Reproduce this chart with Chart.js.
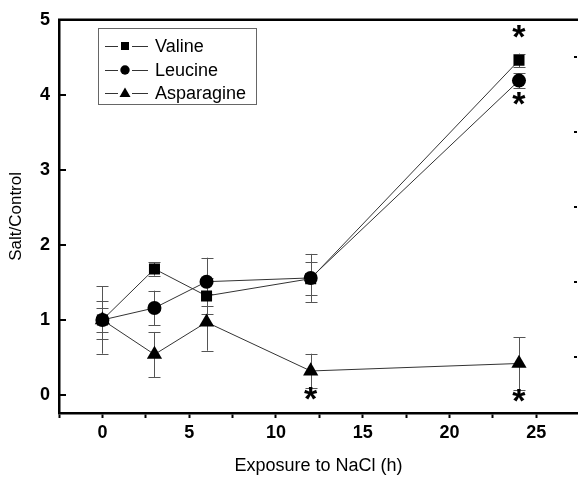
<!DOCTYPE html>
<html>
<head>
<meta charset="utf-8">
<script src="https://cdn.jsdelivr.net/npm/chart.js@4.4.1/dist/chart.umd.min.js"></script>
<style>
  html, body { margin: 0; padding: 0; background: #fff; }
  #wrap { width: 578px; height: 482px; }
</style>
</head>
<body>
<div id="wrap"><canvas id="aminoChart" width="578" height="482"></canvas></div>
<script>
// exposure times (h)
const hours = [0, 3, 6, 12, 24];

// salt / control ratios
const valine = [1.0, 1.68, 1.32, 1.55, 4.46];
const leucine = [1.0, 1.16, 1.51, 1.56, 4.19];
const asparagine = [1.0, 0.54, 0.97, 0.32, 0.42];

// error bar half-widths
const valineErr = [0.16, 0.09, 0.24, 0.22, 0.09];
const leucineErr = [0.25, 0.23, 0.32, 0.32, 0.10];
const asparagineErr = [0.45, 0.30, 0.38, 0.23, 0.35];

// significance stars
const starHours = [24, 24, 12, 24];
const starValues = [4.81, 3.92, -0.02, -0.04];

// axis ticks
const yTicks = [0, 1, 2, 3, 4, 5];
const rightMinorTicks = [0.5, 1.5, 2.5, 3.5, 4.5];

function toPoints(vals) {
    return hours.map((h, i) => ({ x: h, y: vals[i] }));
}

const seriesErr = [valineErr, leucineErr, asparagineErr];

// error bars behind the markers
const errorBars = {
    id: "errorBars",
    beforeDatasetsDraw(chart) {
        const ctx = chart.ctx;
        const xs = chart.scales.x, ys = chart.scales.y;
        ctx.save();
        ctx.strokeStyle = "#555";
        ctx.lineWidth = 1;
        chart.data.datasets.forEach((ds, di) => {
            ds.data.forEach((p, i) => {
                const e = seriesErr[di][i];
                const px = Math.round(xs.getPixelForValue(p.x)) + 0.5;
                const top = ys.getPixelForValue(p.y + e);
                const bot = ys.getPixelForValue(p.y - e);
                ctx.beginPath();
                ctx.moveTo(px, top); ctx.lineTo(px, bot);
                ctx.moveTo(px - 6, Math.round(top) + 0.5); ctx.lineTo(px + 6, Math.round(top) + 0.5);
                ctx.moveTo(px - 6, Math.round(bot) + 0.5); ctx.lineTo(px + 6, Math.round(bot) + 0.5);
                ctx.stroke();
            });
        });
        ctx.restore();
    }
};

// frame bits, stars, legend
const decorations = {
    id: "decorations",
    afterDraw(chart) {
        const ctx = chart.ctx;
        const area = chart.chartArea;
        const xs = chart.scales.x, ys = chart.scales.y;
        ctx.save();

        // top line of frame
        ctx.strokeStyle = "#000";
        ctx.lineWidth = 2.5;
        ctx.beginPath();
        ctx.moveTo(area.left - 1, area.top);
        ctx.lineTo(area.right, area.top);
        ctx.stroke();

        // inward y ticks
        ctx.lineWidth = 2;
        yTicks.forEach(v => {
            const py = Math.round(ys.getPixelForValue(v));
            ctx.beginPath();
            ctx.moveTo(area.left, py);
            ctx.lineTo(area.left + 7, py);
            ctx.stroke();
        });

        // minor ticks of the (cut off) right axis
        ctx.fillStyle = "#000";
        rightMinorTicks.forEach(v => {
            const py = Math.round(ys.getPixelForValue(v));
            ctx.fillRect(area.right - 4, py - 1, 3, 2);
        });

        // significance stars
        ctx.font = "bold 34px 'Liberation Sans', Arial, sans-serif";
        ctx.textAlign = "center";
        ctx.textBaseline = "alphabetic";
        starHours.forEach((h, i) => {
            const px = xs.getPixelForValue(h);
            const py = ys.getPixelForValue(starValues[i]);
            ctx.fillText("*", px, py + 14);
        });

        // legend
        const box = { x: 98.5, y: 28.5, w: 158, h: 76 };
        ctx.strokeStyle = "#666";
        ctx.lineWidth = 1;
        ctx.strokeRect(box.x, box.y, box.w, box.h);
        const rows = [46, 70, 93];
        ctx.font = "18px 'Liberation Sans', Arial, sans-serif";
        ctx.textAlign = "left";
        ctx.textBaseline = "middle";
        chart.data.datasets.forEach((ds, i) => {
            const ry = rows[i];
            ctx.strokeStyle = "#333";
            ctx.lineWidth = 1;
            ctx.beginPath();
            ctx.moveTo(105, ry + 0.5);
            ctx.lineTo(148, ry + 0.5);
            ctx.stroke();
            ctx.fillStyle = "#fff";
            ctx.fillRect(118, ry - 6, 14, 12);
            ctx.fillStyle = "#000";
            const mx = 125;
            if (ds.pointStyle === "rect") {
                ctx.fillRect(mx - 4, ry - 4, 8, 8);
            } else if (ds.pointStyle === "circle") {
                ctx.beginPath();
                ctx.arc(mx, ry, 4.7, 0, Math.PI * 2);
                ctx.fill();
            } else {
                ctx.beginPath();
                ctx.moveTo(mx, ry - 5.5);
                ctx.lineTo(mx + 5.5, ry + 4);
                ctx.lineTo(mx - 5.5, ry + 4);
                ctx.closePath();
                ctx.fill();
            }
            ctx.fillText(ds.label, 155, ry + 1);
        });

        ctx.restore();
    }
};

const ctx = document.getElementById("aminoChart").getContext("2d");
new Chart(ctx, {
    type: "line",
    data: {
        datasets: [
            {
                label: "Valine",
                data: toPoints(valine),
                pointStyle: "rect",
                pointRadius: 7.8,
            },
            {
                label: "Leucine",
                data: toPoints(leucine),
                pointStyle: "circle",
                pointRadius: 7,
            },
            {
                label: "Asparagine",
                data: toPoints(asparagine),
                pointStyle: "triangle",
                pointRadius: 8.8,
            },
        ].map(ds => Object.assign(ds, {
            borderColor: "#333",
            borderWidth: 1,
            backgroundColor: "#000",
            pointBackgroundColor: "#000",
            pointBorderColor: "#000",
            pointBorderWidth: 0,
            pointHoverRadius: ds.pointRadius,
            tension: 0,
            fill: false,
        })),
    },
    options: {
        responsive: false,
        animation: false,
        devicePixelRatio: 1,
        layout: { autoPadding: false, padding: { top: 19, right: 0, left: 0, bottom: 0 } },
        plugins: {
            legend: { display: false },
            tooltip: { enabled: false },
        },
        scales: {
            x: {
                type: "linear",
                min: -2.5,
                max: 27.4,
                afterFit(scale) { scale.height = 69; },
                border: { display: true, color: "#000", width: 2.5 },
                grid: {
                    drawOnChartArea: false,
                    drawTicks: true,
                    tickLength: 5,
                    tickWidth: 2,
                    tickColor: "#000",
                },
                ticks: {
                    stepSize: 2.5,
                    autoSkip: false,
                    includeBounds: false,
                    maxRotation: 0,
                    color: "#000",
                    padding: 4,
                    font: { family: "'Liberation Sans', Arial, sans-serif", size: 18, weight: "bold" },
                    callback: v => (v % 5 === 0 ? v : ""),
                },
                title: {
                    display: true,
                    text: "Exposure to NaCl (h)",
                    color: "#000",
                    padding: { top: 0, bottom: 5 },
                    font: { family: "'Liberation Sans', Arial, sans-serif", size: 18 },
                },
            },
            y: {
                type: "linear",
                min: -0.24,
                max: 5.0,
                afterFit(scale) { scale.width = 59; },
                border: { display: true, color: "#000", width: 2.5 },
                grid: { drawOnChartArea: false, drawTicks: false },
                ticks: {
                    stepSize: 1,
                    includeBounds: false,
                    color: "#000",
                    padding: 9,
                    font: { family: "'Liberation Sans', Arial, sans-serif", size: 18, weight: "bold" },
                },
                title: {
                    display: true,
                    text: "Salt/Control",
                    color: "#000",
                    padding: { top: 6, bottom: 0 },
                    font: { family: "'Liberation Sans', Arial, sans-serif", size: 17 },
                },
            },
        },
    },
    plugins: [errorBars, decorations],
});
</script>
</body>
</html>
